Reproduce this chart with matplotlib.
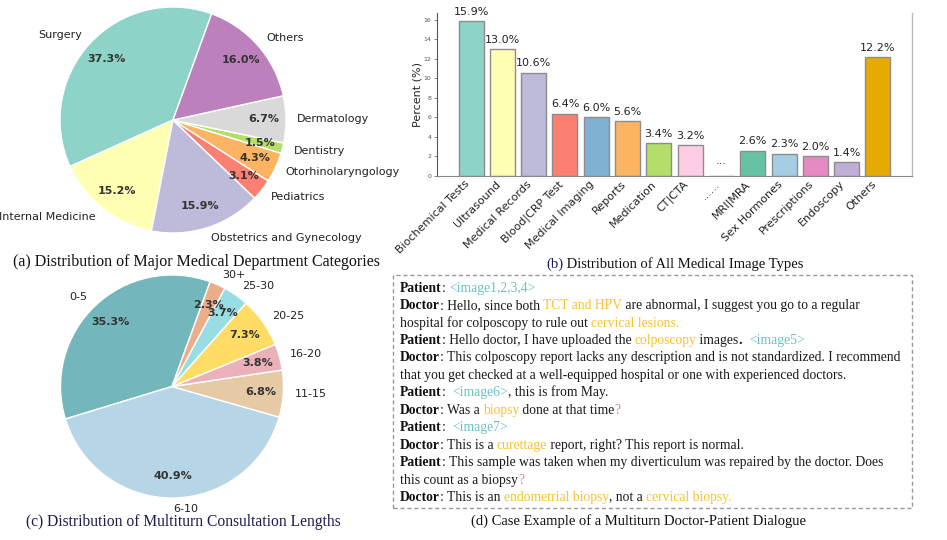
import matplotlib
matplotlib.use("Agg")
import matplotlib.pyplot as plt
from matplotlib.font_manager import FontProperties
from matplotlib.patches import Rectangle

# ---------------- data ----------------
dept_labels = ["Surgery", "Internal Medicine", "Obstetrics and Gynecology", "Pediatrics",
               "Otorhinolaryngology", "Dentistry", "Dermatology", "Others"]
dept_values = [37.3, 15.2, 15.9, 3.1, 4.3, 1.5, 6.7, 16.0]
dept_colors = ["#8dd3c7", "#ffffb3", "#bebada", "#fb8072", "#fdb462", "#b3de69", "#d9d9d9", "#bc80bd"]

img_types = ["Biochemical Tests", "Ultrasound", "Medical Records", "Blood|CRP Test", "Medical Imaging",
             "Reports", "Medication", "CT|CTA", "......", "MRI|MRA", "Sex Hormones", "Prescriptions",
             "Endoscopy", "Others"]
img_values = [15.9, 13.0, 10.6, 6.4, 6.0, 5.6, 3.4, 3.2, 0.0, 2.6, 2.3, 2.0, 1.4, 12.2]
img_colors = ["#8dd3c7", "#ffffb3", "#bebada", "#fb8072", "#80b1d3", "#fdb462", "#b3de69", "#fccde5",
              "#d9d9d9", "#66c2a5", "#a6cee3", "#e78ac3", "#c0aed6", "#e6ab02"]
placeholder = "......"

len_labels = ["0-5", "6-10", "11-15", "16-20", "20-25", "25-30", "30+"]
len_values = [35.3, 40.9, 6.8, 3.8, 7.3, 3.7, 2.3]
len_colors = ["#73b7bc", "#b6d6e8", "#e6caa6", "#ebb0b8", "#ffdc66", "#99dde4", "#ebae8b"]

# captions as (text, colour) segments
captions = [
    [("(a) Distribution of Major Medical Department Categories", "#111111")],
    [("(b)", "#1c1c4e"), (" Distribution of All Medical Image Types", "#111111")],
    [("(c) Distribution of Multiturn Consultation Lengths", "#1c1c4e")],
    [("(d) Case Example of a Multiturn Doctor-Patient Dialogue", "#111111")],
]

dialogue = [
    [("Patient", "b"), (": ", "n"), ("<image1,2,3,4>", "c")],
    [("Doctor", "b"), (": Hello, since both ", "n"), ("TCT and HPV", "y"), (" are abnormal, I suggest you go to a regular", "n")],
    [("hospital for colposcopy to rule out ", "n"), ("cervical lesions.", "y")],
    [("Patient", "b"), (": Hello doctor, I have uploaded the ", "n"), ("colposcopy", "y"), (" images", "n"), (".", "b"), ("  ", "n"), ("<image5>", "c")],
    [("Doctor", "b"), (": This colposcopy report lacks any description and is not standardized. I recommend", "n")],
    [("that you get checked at a well-equipped hospital or one with experienced doctors.", "n")],
    [("Patient", "b"), (":  ", "n"), ("<image6>", "c"), (", this is from May.", "n")],
    [("Doctor", "b"), (": Was a ", "n"), ("biopsy", "y"), (" done at that time", "n"), ("?", "r")],
    [("Patient", "b"), (":  ", "n"), ("<image7>", "c")],
    [("Doctor", "b"), (": This is a ", "n"), ("curettage", "y"), (" report, right? This report is normal.", "n")],
    [("Patient", "b"), (": This sample was taken when my diverticulum was repaired by the doctor. Does", "n")],
    [("this count as a biopsy", "n"), ("?", "r")],
    [("Doctor", "b"), (": This is an ", "n"), ("endometrial biopsy", "y"), (", not a ", "n"), ("cervical biopsy.", "y")],
]

# ---------------- figure ----------------
W, H = 947, 540
fig = plt.figure(figsize=(W / 100, H / 100), dpi=100)
fig.patch.set_facecolor("white")
renderer = fig.canvas.get_renderer()
serif = ["Liberation Serif", "DejaVu Serif"]


def adv(s, size, weight="normal"):
    fp = FontProperties(family=serif, size=size, weight=weight)
    w1 = renderer.get_text_width_height_descent("|" + s + "|", fp, ismath=False)[0]
    w0 = renderer.get_text_width_height_descent("||", fp, ismath=False)[0]
    return w1 - w0


def pie_axes(cx, cy, R):
    s = 2.5 * R
    return fig.add_axes([(cx - s / 2) / W, 1 - (cy + s / 2) / H, s / W, s / H])


def draw_pie(ax, values, labels, colors):
    wedges, texts, autotexts = ax.pie(
        values, labels=labels, colors=colors, startangle=70, counterclock=True,
        autopct="%1.1f%%", pctdistance=0.8, labeldistance=1.1,
        wedgeprops=dict(edgecolor="white", linewidth=1),
        textprops=dict(fontsize=8, color="#222222"))
    for t in autotexts:
        t.set_fontweight("bold")
        t.set_color("#333333")
    ax.set_xlim(-1.25, 1.25)
    ax.set_ylim(-1.25, 1.25)
    ax.set_aspect("equal")


# (a)
axa = pie_axes(173, 120, 113)
draw_pie(axa, dept_values, dept_labels, dept_colors)

# (c)
axc = pie_axes(172, 386.5, 111.5)
draw_pie(axc, len_values, len_labels, len_colors)

# (b) bar chart
axb = fig.add_axes([437 / W, 1 - 176 / H, 475 / W, 162.8 / H])
x = list(range(len(img_types)))
bars = axb.bar(x, img_values, width=0.8, color=img_colors, edgecolor="#8c8c8c", linewidth=1)
bar_texts = [("" if lab == placeholder else f"{v:.1f}%") for lab, v in zip(img_types, img_values)]
axb.bar_label(bars, labels=bar_texts, padding=3, fontsize=8, color="#222222")
for i, lab in enumerate(img_types):
    if lab == placeholder:
        axb.text(i, img_values[i] + 1, "...", ha="center", va="bottom", fontsize=8, color="#222222")
axb.set_xticks(x)
axb.set_xticklabels(img_types, rotation=45, ha="right", fontsize=8, color="#222222")
axb.set_ylabel("Percent (%)", fontsize=8, color="#222222", labelpad=1)
axb.set_yticks(range(0, 17, 2))
axb.tick_params(axis="y", labelsize=4.5, length=2, width=0.5, pad=2, colors="#555555")
axb.tick_params(axis="x", length=0, pad=2)
axb.spines["top"].set_visible(False)
axb.spines["left"].set_color("#555555")
axb.spines["left"].set_linewidth(0.8)
axb.spines["right"].set_color("#bbbbbb")
axb.spines["right"].set_linewidth(1.0)
axb.spines["bottom"].set_color("#888888")
axb.spines["bottom"].set_linewidth(0.8)
axb.set_xlim(-1.09, len(img_types) - 1 + 1.09)
axb.set_ylim(0, max(img_values) * 1.05)

# captions
cap_pos = [(196.7, 262, 11.5), (675, 264, 10.5), (183, 521.5, 11.2), (638.5, 521.5, 10.5)]
for (cx, cy, size), segs in zip(cap_pos, captions):
    total = sum(adv(s, size) for s, _ in segs)
    xc = cx - total / 2
    for s, col in segs:
        fig.text(xc / W, 1 - cy / H, s, ha="left", va="center", fontsize=size, family=serif, color=col)
        xc += adv(s, size)

# (d) dialogue box
box = Rectangle((393.3 / W, 1 - 507.7 / H), (911.7 - 393.3) / W, (507.7 - 275) / H,
                transform=fig.transFigure, fill=False, edgecolor="#999999", linewidth=1,
                linestyle=(0, (3, 2)))
fig.add_artist(box)

fs = 9.8
styles = {
    "n": dict(color="#1a1a1a", weight="normal"),
    "b": dict(color="#111111", weight="bold"),
    "c": dict(color="#6cc0c8", weight="normal"),
    "y": dict(color="#f9c22e", weight="normal"),
    "r": dict(color="#f47c7c", weight="normal"),
}

x0 = 400
y0 = 291.7
dy = 17.44
for li, line in enumerate(dialogue):
    xc = x0
    yb = y0 + dy * li
    for seg, st in line:
        sty = styles[st]
        fig.text(xc / W, 1 - yb / H, seg, ha="left", va="baseline", fontsize=fs,
                 family=serif, color=sty["color"], fontweight=sty["weight"])
        xc += adv(seg, fs, sty["weight"])

fig.savefig("out.png", dpi=100, facecolor="white")
